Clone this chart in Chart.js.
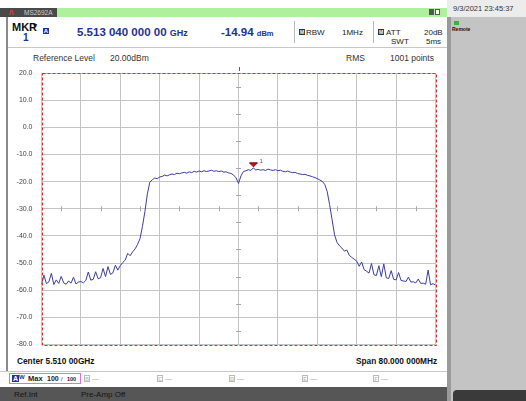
<!DOCTYPE html>
<html>
<head>
<meta charset="utf-8">
<script src="https://cdn.jsdelivr.net/npm/chart.js@4.4.0/dist/chart.umd.min.js"></script>
<style>
  html, body { margin: 0; padding: 0; }
  body { width: 526px; height: 401px; position: relative; overflow: hidden; background: #fff;
         font-family: "Liberation Sans", Arial, sans-serif; color: #222; }
  .a { position: absolute; white-space: nowrap; line-height: 1; }
  .box { position: absolute; }
  .blue { color: #22319a; font-weight: bold; }
  .mini { position: absolute; width: 6px; height: 6px; font-size: 6px; line-height: 6px; text-align: center; font-weight: bold; }
  #spec { position: absolute; left: 0; top: 0; }
</style>
</head>
<body>
<!-- title bar -->
<div class="box" style="left:0;top:8px;width:57px;height:9px;background:#4a4a4a"></div>
<div class="a" style="left:9px;top:9px;font-size:8px;color:#d44;font-weight:bold">/\</div>
<div class="a" style="left:24px;top:10px;font-size:6.5px;color:#cfcfcf">MS2692A</div>
<div class="box" style="left:57px;top:8px;width:390px;height:9px;background:#aef09b"></div>
<div class="box" style="left:429px;top:9px;width:5px;height:6px;background:#555"></div>
<div class="box" style="left:435px;top:9px;width:5px;height:6px;background:#fff;border:1px solid #555;box-sizing:border-box"></div>

<!-- right panel -->
<div class="box" style="left:447px;top:0;width:79px;height:401px;background:#c4c4c4"></div>
<div class="box" style="left:447px;top:0;width:79px;height:17px;background:#ececec"></div>
<div class="box" style="left:447px;top:17px;width:4px;height:384px;background:#9a9a9a"></div>
<div class="a" style="left:453px;top:5px;font-size:7.5px;color:#333">9/3/2021 23:45:37</div>
<div class="box" style="left:454px;top:21px;width:5px;height:4px;background:#3fae3a"></div>
<div class="a" style="left:452px;top:27px;font-size:5px;color:#111;font-weight:bold">Remote</div>

<!-- left border -->
<div class="box" style="left:6px;top:17px;width:2px;height:355px;background:#8a8a8a"></div>

<!-- header -->
<div class="a" style="left:12px;top:22px;font-size:11px;font-weight:bold;color:#111">MKR</div>
<div class="a" style="left:33px;top:22px;font-size:8px;color:#111">&#9662;</div>
<div class="a blue" style="left:23px;top:33px;font-size:10px">1</div>
<div class="mini" style="left:43px;top:28px;background:#22319a;color:#fff">A</div>
<div class="a blue" style="left:77px;top:27px;font-size:11.5px">5.513 040 000 00 <span style="font-size:9px">GHz</span></div>
<div class="a blue" style="left:221px;top:27px;font-size:11.5px">-14.94 <span style="font-size:7.5px">dBm</span></div>
<div class="box" style="left:294px;top:21px;width:1px;height:22px;background:#bbb"></div>
<div class="mini" style="left:299px;top:29px;background:#333;color:#fff;font-size:5px">M</div>
<div class="a" style="left:306px;top:29px;font-size:8px;color:#222">RBW</div>
<div class="a" style="left:342px;top:29px;font-size:8px;color:#222">1MHz</div>
<div class="box" style="left:373px;top:21px;width:1px;height:22px;background:#bbb"></div>
<div class="mini" style="left:378px;top:29px;background:#333;color:#fff;font-size:5px">M</div>
<div class="a" style="left:386px;top:29px;font-size:8px;color:#222">ATT</div>
<div class="a" style="left:424px;top:29px;font-size:8px;color:#222">20dB</div>
<div class="a" style="left:391px;top:38px;font-size:8px;color:#222">SWT</div>
<div class="a" style="left:426px;top:38px;font-size:8px;color:#222">5ms</div>
<div class="box" style="left:8px;top:47px;width:439px;height:1px;background:#c8c8c8"></div>
<div class="a" style="left:33px;top:54px;font-size:8.5px;color:#333">Reference Level</div>
<div class="a" style="left:110px;top:54px;font-size:8.5px;color:#333">20.00dBm</div>
<div class="a" style="left:346px;top:54px;font-size:8.5px;color:#333">RMS</div>
<div class="a" style="left:390px;top:54px;font-size:8.5px;color:#333">1001 points</div>

<!-- footer -->
<div class="a" style="left:17px;top:357px;font-size:8.3px;font-weight:bold;color:#111">Center 5.510 00GHz</div>
<div class="a" style="left:356px;top:357px;font-size:8.3px;font-weight:bold;color:#111">Span 80.000 000MHz</div>
<div class="box" style="left:0;top:371px;width:447px;height:1px;background:#c8c8c8"></div>
<div class="box" style="left:9px;top:373px;width:72px;height:11px;border:1px solid #e36ee0;box-sizing:border-box"></div>
<div class="mini" style="left:12px;top:375px;width:7px;height:7px;line-height:7px;background:#22319a;color:#fff;font-size:7px">A</div>
<div class="a" style="left:19px;top:374px;font-size:6px;color:#22319a;font-weight:bold">W</div>
<div class="a" style="left:28px;top:375px;font-size:7.5px;color:#222;font-weight:bold">Max</div>
<div class="a" style="left:47px;top:375px;font-size:7px;color:#222;font-weight:bold">100</div>
<div class="a" style="left:61px;top:376px;font-size:6px;color:#222">/</div>
<div class="a" style="left:67px;top:377px;font-size:5.5px;color:#222;font-weight:bold">100</div>
<div class="mini" style="left:84px;top:375px;width:6px;height:7px;border:1px solid #bbb;color:#bbb;box-sizing:border-box;font-size:5px">B</div>
<div class="a" style="left:92px;top:375px;font-size:7px;color:#aaa">&mdash;</div>
<div class="mini" style="left:157px;top:375px;width:6px;height:7px;border:1px solid #bbb;color:#bbb;box-sizing:border-box;font-size:5px">C</div>
<div class="a" style="left:165px;top:375px;font-size:7px;color:#aaa">&mdash;</div>
<div class="mini" style="left:229px;top:375px;width:6px;height:7px;border:1px solid #bbb;color:#bbb;box-sizing:border-box;font-size:5px">D</div>
<div class="a" style="left:237px;top:375px;font-size:7px;color:#aaa">&mdash;</div>
<div class="mini" style="left:302px;top:375px;width:6px;height:7px;border:1px solid #bbb;color:#bbb;box-sizing:border-box;font-size:5px">E</div>
<div class="a" style="left:310px;top:375px;font-size:7px;color:#aaa">&mdash;</div>
<div class="mini" style="left:373px;top:375px;width:6px;height:7px;border:1px solid #bbb;color:#bbb;box-sizing:border-box;font-size:5px">F</div>
<div class="a" style="left:381px;top:375px;font-size:7px;color:#aaa">&mdash;</div>
<div class="box" style="left:0;top:387px;width:447px;height:14px;background:#565656"></div>
<div class="box" style="left:453px;top:390px;width:73px;height:11px;background:#3a3a3a;border-top-left-radius:4px"></div>
<div class="a" style="left:14px;top:391px;font-size:8px;color:#141414">Ref.Int</div>
<div class="a" style="left:81px;top:391px;font-size:8px;color:#141414">Pre-Amp Off</div>

<canvas id="spec" width="526" height="401"></canvas>

<script>
// trace A, 161 points over 5.470 - 5.550 GHz (0.5 MHz step), dBm
const startMHz = 5470;
const stepMHz = 0.5;
const levels = [
  -57.8, -54.5, -57.6, -56.9, -53.8, -57.9, -56.2, -57.5, -54.9, -57.3,
  -57.8, -56.6, -57.4, -55.2, -57.7, -57.0, -56.8, -57.3, -56.4, -53.3,
  -56.3, -56.0, -53.2, -55.8, -55.4, -52.0, -55.0, -51.3, -54.2, -53.6,
  -50.8, -52.6, -50.9, -49.8, -48.9, -46.4, -47.3, -45.9, -44.8, -43.2,
  -41.0, -36.5, -31.0, -24.5, -20.2, -19.3, -18.7, -18.9, -18.3, -18.1,
  -17.6, -17.9, -17.5, -17.2, -17.4, -16.9, -17.1, -16.8, -16.6, -16.9,
  -16.4, -16.7, -16.2, -16.5, -16.1, -16.4, -16.0, -16.3, -16.1, -15.8,
  -16.2, -16.0, -16.3, -16.1, -16.5, -16.4, -16.8, -17.0, -17.6, -18.6,
  -20.7, -17.9, -16.3, -16.0, -15.6, -15.9, -14.94, -15.7, -15.5, -15.8,
  -15.6, -15.9, -15.4, -15.7, -15.9, -15.6, -16.0, -15.8, -16.2, -16.4,
  -16.1, -16.5, -16.7, -16.6, -17.0, -17.2, -17.4, -17.3, -17.7, -17.9,
  -18.2, -18.5, -18.9, -19.4, -19.9, -21.0, -23.6, -28.5, -34.0, -39.6,
  -42.4, -43.6, -44.5, -45.6, -45.2, -47.2, -47.9, -48.6, -49.3, -51.2,
  -49.6, -52.4, -53.0, -53.7, -50.2, -54.3, -54.6, -51.0, -55.0, -50.3,
  -55.4, -55.7, -52.8, -56.0, -56.2, -53.5, -56.4, -56.6, -56.8, -55.2,
  -57.0, -56.9, -57.3, -55.9, -57.5, -57.4, -57.8, -52.6, -58.0, -57.6,
  -58.1
];
const markerMHz = 5513.04;
const markerLevel = -14.94;
const yTicks = [20, 10, 0, -10, -20, -30, -40, -50, -60, -70, -80];

const points = levels.map((v, i) => ({ x: startMHz + i * stepMHz, y: v }));

// crosshair minor ticks, red dashed frame and marker 1
const decor = {
  id: 'decor',
  beforeDatasetsDraw(chart) {
    const { ctx, chartArea: a, scales } = chart;
    const cx = scales.x.getPixelForValue(5510);
    const cy = scales.y.getPixelForValue(-30);
    ctx.save();
    ctx.strokeStyle = '#a8a8a8';
    ctx.lineWidth = 1;
    ctx.beginPath();
    for (let f = 5474; f < 5550; f += 8) {
      const px = Math.round(scales.x.getPixelForValue(f)) + 0.5;
      ctx.moveTo(px, cy - 2.5); ctx.lineTo(px, cy + 2.5);
    }
    for (let d = 15; d > -80; d -= 10) {
      const py = Math.round(scales.y.getPixelForValue(d)) + 0.5;
      ctx.moveTo(cx - 2.5, py); ctx.lineTo(cx + 2.5, py);
    }
    ctx.stroke();
    ctx.restore();
  },
  afterDatasetsDraw(chart) {
    const { ctx, chartArea: a, scales } = chart;
    ctx.save();
    ctx.strokeStyle = '#e02828';
    ctx.lineWidth = 1;
    ctx.setLineDash([3, 2]);
    ctx.strokeRect(Math.round(a.left) + 0.5, Math.round(a.top) + 0.5,
                   Math.round(a.right - a.left), Math.round(a.bottom - a.top));
    ctx.setLineDash([]);
    const cx = Math.round(scales.x.getPixelForValue(5510)) + 0.5;
    ctx.beginPath();
    ctx.moveTo(cx, a.top - 6); ctx.lineTo(cx, a.top - 2);
    ctx.stroke();
    // marker
    const mx = scales.x.getPixelForValue(markerMHz);
    const my = scales.y.getPixelForValue(markerLevel);
    ctx.fillStyle = '#d0101a';
    ctx.strokeStyle = '#7a0008';
    ctx.beginPath();
    ctx.moveTo(mx - 4, my - 5);
    ctx.lineTo(mx + 4, my - 5);
    ctx.lineTo(mx, my - 1);
    ctx.closePath();
    ctx.fill();
    ctx.stroke();
    ctx.fillStyle = '#e02828';
    ctx.font = '6px "Liberation Sans", Arial, sans-serif';
    ctx.textBaseline = 'bottom';
    ctx.fillText('1', mx + 6, my - 4);
    ctx.restore();
  }
};

const config = {
  type: 'line',
  data: {
    datasets: [{
      data: points,
      borderColor: '#3c3caa',
      borderWidth: 1,
      pointRadius: 0,
      tension: 0
    }]
  },
  options: {
    responsive: false,
    animation: false,
    parsing: false,
    layout: { padding: { left: 0, top: 73, right: 90.5, bottom: 56.5 } },
    plugins: { legend: { display: false }, tooltip: { enabled: false } },
    scales: {
      x: {
        type: 'linear',
        min: 5470,
        max: 5550,
        afterFit(scale) { scale.height = 0; },
        afterBuildTicks(scale) {
          scale.ticks = [];
          for (let f = 5470; f <= 5550; f += 8) scale.ticks.push({ value: f });
        },
        ticks: { display: false },
        border: { display: false },
        grid: { color: '#c4c4c4', drawTicks: false }
      },
      y: {
        min: -80,
        max: 20,
        afterFit(scale) { scale.width = 41.5; },
        afterBuildTicks(scale) { scale.ticks = yTicks.map(v => ({ value: v })); },
        ticks: {
          padding: 9,
          color: '#444',
          font: { size: 7, family: '"Liberation Sans", Arial, sans-serif' },
          callback: v => v.toFixed(1)
        },
        border: { display: false },
        grid: { color: '#c4c4c4', drawTicks: false }
      }
    }
  },
  plugins: [decor]
};

new Chart(document.getElementById('spec').getContext('2d'), config);
</script>
</body>
</html>
